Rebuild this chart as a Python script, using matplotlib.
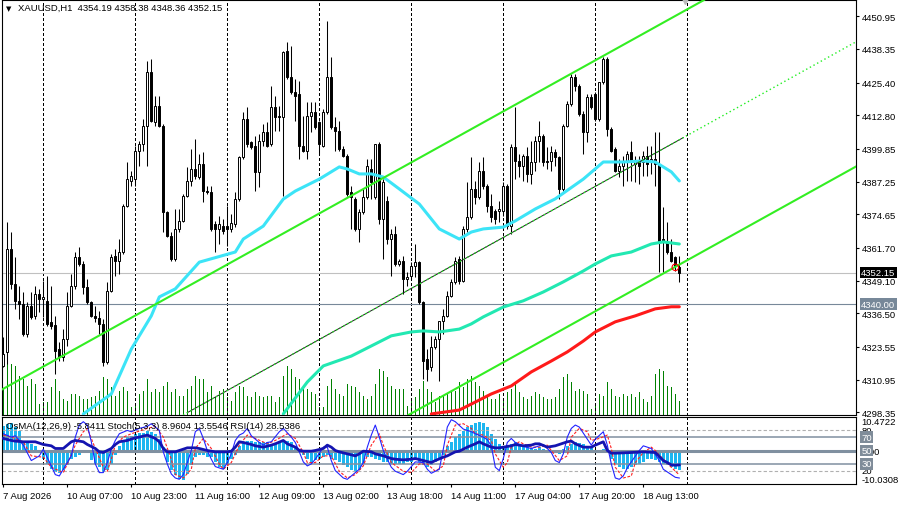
import matplotlib
matplotlib.use("Agg")
import matplotlib.pyplot as plt
from matplotlib.patches import Rectangle
from matplotlib.transforms import blended_transform_factory as btf
import numpy as np

plt.rcParams['font.family'] = ['Liberation Sans', 'DejaVu Sans']

# ---------------- data ----------------
symbol = "XAUUSD,H1"
header_ohlc = ["4354.19", "4358.38", "4348.36", "4352.15"]

opens = [4316.3, 4321.4, 4361.3, 4347.8, 4341.4, 4340.1, 4328.5, 4339.4, 4335.6, 4343.9,
         4342.0, 4341.4, 4333.0, 4331.9, 4322.7, 4319.5, 4326.6, 4339.4, 4347.1, 4358.1,
         4355.5, 4346.5, 4340.7, 4335.6, 4334.5, 4332.4, 4317.6, 4345.2, 4358.7, 4356.8,
         4360.0, 4378.0, 4387.6, 4388.2, 4399.2, 4401.7, 4408.8, 4429.4, 4410.1, 4416.5,
         4408.8, 4375.4, 4366.4, 4357.4, 4369.0, 4372.2, 4381.8, 4387.6, 4392.1, 4388.9,
         4394.0, 4383.7, 4383.1, 4370.9, 4369.0, 4370.3, 4370.3, 4369.0, 4370.9, 4380.5,
         4396.6, 4411.4, 4402.4, 4401.1, 4390.8, 4403.0, 4406.2, 4401.7, 4415.9, 4412.7,
         4412.0, 4437.7, 4427.4, 4421.6, 4421.0, 4401.1, 4399.2, 4412.7, 4413.9, 4410.1,
         4401.1, 4413.9, 4427.4, 4408.2, 4406.9, 4399.8, 4397.2, 4383.1, 4380.5, 4369.0,
         4375.4, 4381.2, 4392.1, 4381.2, 4401.7, 4372.8, 4379.9, 4365.1, 4367.1, 4355.5,
         4356.8, 4349.7, 4351.0, 4354.8, 4356.1, 4340.7, 4318.9, 4315.6, 4323.4, 4326.6,
         4333.6, 4335.6, 4343.3, 4348.4, 4357.4, 4349.1, 4369.0, 4373.5, 4384.4, 4381.2,
         4391.5, 4385.7, 4378.0, 4376.0, 4376.0, 4376.0, 4385.7, 4370.3, 4400.5, 4395.3,
         4393.4, 4397.2, 4390.2, 4394.7, 4403.0, 4405.0, 4395.3, 4395.3, 4398.5, 4396.6,
         4384.4, 4408.8, 4417.2, 4427.4, 4424.2, 4413.3, 4406.2, 4419.7, 4421.0, 4411.4,
         4425.5, 4434.5, 4407.5, 4399.8, 4391.5, 4393.4, 4394.7, 4398.5, 4394.0, 4394.7,
         4394.7, 4397.2, 4394.7, 4396.0, 4394.0, 4365.1, 4363.8, 4360.0, 4358.1, 4354.19]

highs = [4327.2, 4371.5, 4367.7, 4358.1, 4347.1, 4344.6, 4340.7, 4344.6, 4347.1, 4345.9,
         4349.1, 4351.0, 4347.1, 4335.6, 4325.3, 4330.4, 4344.6, 4351.6, 4360.0, 4361.9,
         4356.8, 4349.7, 4341.4, 4339.4, 4337.5, 4334.3, 4348.4, 4359.3, 4361.3, 4365.1,
         4378.6, 4394.7, 4391.5, 4401.1, 4403.0, 4411.4, 4433.9, 4434.5, 4420.4, 4420.4,
         4409.4, 4376.0, 4367.7, 4376.7, 4376.7, 4382.5, 4392.7, 4399.8, 4403.7, 4397.9,
         4398.5, 4385.7, 4385.7, 4372.2, 4374.1, 4372.8, 4378.0, 4374.8, 4383.1, 4397.2,
         4413.9, 4415.9, 4403.0, 4405.0, 4405.6, 4409.4, 4410.1, 4424.2, 4420.4, 4416.5,
         4437.7, 4440.9, 4439.6, 4426.8, 4426.1, 4412.7, 4417.8, 4417.8, 4417.8, 4410.7,
         4415.2, 4449.3, 4435.1, 4412.0, 4410.7, 4401.1, 4397.9, 4385.7, 4381.2, 4376.7,
         4384.4, 4396.0, 4396.0, 4401.7, 4402.4, 4388.2, 4381.8, 4369.0, 4370.3, 4357.4,
         4358.7, 4352.3, 4356.1, 4363.2, 4356.8, 4341.4, 4322.7, 4327.9, 4327.9, 4333.7,
         4338.1, 4345.2, 4349.7, 4358.1, 4358.7, 4370.3, 4387.0, 4396.6, 4387.6, 4394.7,
         4396.6, 4386.3, 4382.5, 4376.7, 4379.9, 4387.0, 4386.3, 4401.7, 4415.9, 4397.9,
         4397.9, 4400.5, 4403.0, 4405.0, 4410.7, 4405.6, 4400.5, 4401.1, 4399.8, 4397.2,
         4409.4, 4418.4, 4428.7, 4428.7, 4424.9, 4414.6, 4421.0, 4421.0, 4421.6, 4425.5,
         4435.1, 4435.1, 4408.2, 4400.5, 4396.0, 4397.2, 4399.2, 4403.0, 4397.2, 4397.2,
         4399.2, 4401.1, 4401.1, 4406.2, 4406.2, 4377.3, 4371.5, 4365.1, 4358.7, 4358.38]

lows = [4315.6, 4316.9, 4345.9, 4338.1, 4334.3, 4327.9, 4327.2, 4334.3, 4334.3, 4336.9,
        4334.9, 4331.7, 4330.4, 4313.1, 4318.2, 4318.2, 4324.0, 4338.8, 4345.9, 4354.8,
        4343.9, 4340.1, 4334.9, 4333.0, 4328.5, 4316.3, 4316.9, 4344.6, 4351.0, 4351.6,
        4359.3, 4377.3, 4385.7, 4385.7, 4393.4, 4399.2, 4393.4, 4410.1, 4408.8, 4408.2,
        4367.7, 4365.8, 4356.8, 4356.8, 4367.7, 4371.5, 4381.2, 4385.7, 4388.2, 4388.2,
        4379.3, 4382.5, 4368.3, 4360.0, 4363.2, 4367.1, 4362.6, 4367.7, 4369.6, 4379.9,
        4396.0, 4400.5, 4399.8, 4383.7, 4385.0, 4401.1, 4400.5, 4401.1, 4406.9, 4406.9,
        4381.8, 4426.8, 4421.0, 4410.7, 4396.0, 4398.5, 4396.0, 4406.2, 4407.5, 4397.9,
        4400.5, 4413.3, 4407.5, 4399.2, 4399.2, 4396.6, 4381.8, 4369.0, 4368.3, 4363.8,
        4374.8, 4380.5, 4380.5, 4380.5, 4370.9, 4357.4, 4363.2, 4351.0, 4354.8, 4354.8,
        4343.9, 4347.1, 4349.7, 4350.3, 4340.1, 4311.2, 4310.5, 4314.4, 4322.7, 4310.5,
        4328.5, 4334.9, 4342.6, 4347.8, 4347.8, 4348.4, 4367.7, 4372.8, 4378.6, 4380.5,
        4384.4, 4375.4, 4371.5, 4370.9, 4371.5, 4374.1, 4369.0, 4367.1, 4388.2, 4388.9,
        4387.6, 4387.0, 4386.3, 4391.5, 4394.7, 4393.4, 4392.1, 4391.5, 4393.4, 4380.5,
        4383.7, 4408.2, 4416.5, 4422.3, 4412.7, 4397.9, 4402.4, 4415.2, 4410.7, 4410.7,
        4424.9, 4405.0, 4398.5, 4390.8, 4388.9, 4385.7, 4387.6, 4387.6, 4387.0, 4386.3,
        4389.5, 4389.5, 4390.2, 4385.7, 4352.3, 4352.3, 4359.3, 4356.1, 4352.9, 4348.36]

closes = [4320.8, 4361.3, 4347.8, 4341.4, 4340.1, 4328.5, 4339.4, 4334.9, 4343.9, 4342.0,
          4342.6, 4332.4, 4331.7, 4322.1, 4319.5, 4326.6, 4339.4, 4347.1, 4358.1, 4355.5,
          4346.5, 4340.7, 4335.6, 4334.5, 4332.4, 4317.6, 4345.2, 4358.1, 4356.8, 4360.0,
          4378.0, 4388.2, 4389.5, 4399.2, 4401.7, 4408.8, 4429.4, 4410.7, 4416.5, 4408.8,
          4375.4, 4366.4, 4357.4, 4369.0, 4372.2, 4381.8, 4387.6, 4392.1, 4389.5, 4394.0,
          4383.7, 4383.1, 4369.0, 4369.0, 4370.9, 4368.3, 4369.0, 4371.3, 4380.5, 4396.6,
          4411.4, 4401.7, 4400.5, 4390.8, 4403.0, 4406.2, 4401.1, 4415.9, 4412.0, 4412.0,
          4437.1, 4427.4, 4421.6, 4420.4, 4401.1, 4399.2, 4412.7, 4413.9, 4408.2, 4401.7,
          4413.9, 4427.4, 4408.2, 4406.9, 4399.8, 4397.2, 4382.5, 4381.2, 4369.0, 4375.4,
          4381.2, 4393.4, 4387.0, 4401.7, 4372.8, 4387.0, 4365.1, 4367.1, 4355.5, 4356.8,
          4349.7, 4350.3, 4354.8, 4356.1, 4340.7, 4318.2, 4315.0, 4323.4, 4326.6, 4333.6,
          4335.6, 4343.3, 4348.4, 4356.8, 4349.1, 4369.0, 4373.5, 4384.4, 4381.2, 4391.5,
          4385.7, 4378.0, 4373.5, 4372.8, 4376.7, 4385.7, 4370.3, 4400.5, 4395.3, 4393.4,
          4397.2, 4390.2, 4394.7, 4403.0, 4405.0, 4394.7, 4394.7, 4398.5, 4396.6, 4384.4,
          4408.8, 4417.2, 4427.4, 4424.2, 4413.3, 4406.2, 4419.7, 4415.9, 4411.4, 4425.5,
          4434.5, 4407.5, 4399.2, 4391.5, 4393.4, 4394.7, 4397.9, 4394.7, 4395.3, 4393.4,
          4397.2, 4394.0, 4396.0, 4394.0, 4364.5, 4363.8, 4360.0, 4356.8, 4354.8, 4352.15]

tick_volume = [78, 153, 153, 148, 118, 108, 88, 108, 93, 33,
               38, 38, 83, 108, 73, 48, 43, 63, 63, 58,
               48, 48, 53, 58, 73, 113, 108, 83, 58, 73,
               83, 73, 23, 28, 63, 73, 108, 68, 78, 68,
               88, 98, 68, 78, 58, 58, 78, 88, 118, 108,
               108, 68, 88, 53, 73, 78, 53, 43, 68, 88,
               83, 58, 53, 68, 58, 53, 58, 58, 38, 53,
               118, 148, 138, 113, 108, 83, 78, 68, 63, 23,
               23, 88, 108, 78, 63, 58, 93, 88, 83, 68,
               58, 48, 58, 93, 138, 133, 113, 88, 78, 78,
               78, 28, 43, 53, 78, 103, 78, 68, 38, 58,
               58, 63, 73, 73, 98, 83, 108, 118, 98, 88,
               73, 53, 48, 48, 63, 43, 68, 78, 93, 68,
               53, 48, 58, 68, 63, 53, 48, 48, 53, 78,
               113, 123, 98, 73, 78, 73, 63, 18, 28, 63,
               58, 98, 78, 58, 53, 63, 58, 63, 53, 68,
               48, 38, 58, 123, 138, 133, 88, 83, 63, 43]
volume_scale_top = 1245

ma_fast_bars = [20, 27, 32, 37, 39, 43, 49, 58, 60, 65, 70, 73, 79, 84, 86, 89, 92, 95, 99, 104,
                109, 114, 117, 120, 125, 128, 133, 138, 145, 150, 155, 160, 163, 167, 169]
ma_fast = [4297.7, 4305.4, 4322.7, 4335.5, 4342.8, 4345.9, 4356.2, 4360.1, 4365.1, 4370.1,
           4380.5, 4383.6, 4388.2, 4392.9, 4392.1, 4390.2, 4390.2, 4389.0, 4384.4, 4378.6,
           4369.0, 4365.1, 4367.8, 4369.0, 4369.7, 4372.1, 4376.7, 4380.6, 4388.2, 4394.8,
           4394.8, 4395.2, 4394.8, 4391.0, 4387.5]
ma_mid_bars = [70, 76, 80, 87, 92, 97, 102, 105, 109, 114, 117, 120, 125, 130, 135, 140, 145,
               148, 152, 157, 162, 165, 169]
ma_mid = [4297.7, 4310.0, 4316.2, 4320.0, 4323.9, 4327.8, 4329.3, 4329.7, 4329.3, 4330.4,
          4332.4, 4335.1, 4338.9, 4341.3, 4344.7, 4348.6, 4352.8, 4355.5, 4358.6, 4360.1,
          4363.2, 4364.0, 4363.2]
ma_slow_bars = [107, 114, 117, 122, 127, 132, 137, 141, 145, 148, 153, 158, 163, 167, 169]
ma_slow = [4297.7, 4299.2, 4301.5, 4305.4, 4308.5, 4313.9, 4318.1, 4321.6, 4325.8, 4329.3,
           4333.2, 4335.5, 4338.2, 4339.0, 4339.0]

channel_upper = [(0, 4307.4), (170, 4452.8)]
channel_mid = [(46, 4298.2), (170, 4404.2)]
channel_lower = [(102, 4297.9), (170, 4356.1)]

bid_price = 4352.15
level_price = 4340.00
alert_bar, alert_price = 168, 4354.2

price_ticks = [4450.95, 4438.35, 4425.40, 4412.80, 4399.85, 4387.25, 4374.65,
               4361.70, 4349.10, 4336.50, 4323.55, 4310.95, 4298.35]
time_label_bars = [0, 16, 32, 48, 64, 80, 96, 112, 128, 144, 160]
time_labels = ["7 Aug 2026", "10 Aug 07:00", "10 Aug 23:00", "11 Aug 16:00", "12 Aug 09:00",
               "13 Aug 02:00", "13 Aug 18:00", "14 Aug 11:00", "17 Aug 04:00", "17 Aug 20:00",
               "18 Aug 13:00"]
grid_bars = [10, 33, 56, 79, 102, 125, 148, 171]

osma = [7.8, 8.3, 8.6, 7.3, 6.2, 3.2, 2.7, 2.2, 1.7, 0.2,
        -2.3, -3.8, -5.3, -6.4, -6.6, -5.8, -4.3, -2.3, -1.8, -1.3,
        0.2, -0.3, -2.8, -3.8, -4.8, -6.4, -5.8, -3.8, -1.3, 1.7,
        3.2, 4.2, 4.7, 5.2, 5.5, 5.7, 6.2, 5.9, 5.2, 3.7,
        1.2, -3.3, -5.8, -7.4, -8.4, -8.9, -6.9, -4.3, -1.8, -1.3,
        -1.3, -1.8, -1.8, -3.3, -4.8, -5.3, -3.8, -2.3, -1.3, 1.7,
        2.7, 3.2, 3.2, 2.9, 2.7, 2.7, 2.7, 2.2, 2.2, 2.7,
        3.2, 3.2, 2.7, 1.7, 0.7, -1.3, -2.3, -3.3, -2.8, -2.3,
        -1.8, -1.3, -2.3, -2.8, -3.3, -4.3, -4.8, -5.8, -6.4, -5.8,
        -3.8, -1.8, -1.8, -2.3, -2.8, -3.3, -3.3, -3.8, -3.8, -3.8,
        -3.8, -3.3, -3.3, -2.8, -3.3, -4.3, -4.8, -4.3, -3.3, -2.3,
        -1.3, 1.7, 2.7, 4.2, 5.2, 6.2, 7.3, 8.0, 8.6, 8.8,
        8.6, 7.3, 5.2, 3.7, 2.2, 1.5, 1.7, 2.2, 2.7, 2.2,
        1.7, 1.5, 0.9, 0.7, 1.2, 0.7, 0.5, -0.1, -0.3, -0.8,
        0.7, 1.7, 2.2, 2.7, 2.5, 2.2, 1.5, 0.9, -0.3, 0.5,
        0.7, 0.2, -2.3, -3.8, -4.8, -5.3, -5.3, -4.8, -4.3, -3.8,
        -3.3, -2.3, -2.5, -2.8, -3.3, -3.8, -4.3, -4.8, -5.3, -5.8411]
osma_min, osma_max = -10.0308, 10.4722

stoch_main_bars = [0, 2, 3, 5, 7, 9, 10, 12, 13, 14, 15, 17, 18, 19, 20, 21, 22, 23, 24, 25,
                   26, 27, 28, 29, 31, 32, 34, 36, 37, 39, 40, 41, 42, 43, 44, 45, 47, 48, 49, 50,
                   51, 52, 53, 55, 56, 57, 58, 59, 60, 61, 62, 64, 65, 66, 67, 69, 70, 72, 73, 74,
                   75, 76, 77, 78, 80, 81, 82, 83, 85, 86, 87, 89, 90, 91, 92, 93, 94, 95, 96, 97,
                   98, 100, 101, 103, 105, 106, 107, 109, 110, 111, 112, 113, 115, 117, 118, 120,
                   121, 122, 123, 124, 125, 126, 127, 128, 130, 132, 133, 135, 137, 138, 139, 140,
                   141, 142, 143, 144, 145, 147, 148, 150, 151, 152, 153, 154, 155, 156, 157, 159,
                   160, 161, 162, 164, 165, 166, 167, 168, 169]
stoch_main = [75, 70, 72, 58, 35, 42, 52, 27, 14, 12, 22, 42, 70, 88, 93, 88, 63, 30, 17, 17,
              32, 52, 65, 75, 80, 78, 83, 86, 90, 80, 48, 30, 15, 9, 7, 14, 50, 78, 83, 68,
              50, 37, 26, 22, 32, 45, 65, 73, 76, 83, 72, 62, 58, 62, 63, 78, 83, 70, 62, 48,
              33, 27, 30, 37, 55, 55, 35, 20, 9, 7, 12, 22, 32, 55, 73, 88, 70, 50, 37, 25,
              19, 14, 19, 33, 32, 22, 16, 22, 52, 85, 96, 93, 82, 78, 75, 70,
              66, 57, 25, 20, 38, 62, 68, 62, 56, 53, 55, 59, 47, 35, 32, 45,
              70, 83, 88, 85, 76, 58, 67, 78, 58, 30, 9, 7, 12, 24, 33, 50,
              57, 55, 53, 35, 22, 18, 14, 10, 8.9604]
stoch_sig_bars = [0, 2, 5, 7, 10, 12, 15, 16, 18, 20, 21, 23, 25, 26, 27, 28, 30, 32, 36, 38,
                  40, 42, 43, 45, 47, 48, 50, 52, 54, 55, 57, 59, 61, 63, 66, 68, 71, 73, 75, 76,
                  78, 80, 82, 84, 86, 88, 90, 92, 94, 95, 97, 100, 102, 104, 106, 108, 110, 111,
                  113, 115, 117, 118, 120, 122, 123, 125, 126, 127, 129, 130, 132, 134, 136, 137,
                  139, 141, 142, 144, 146, 147, 149, 151, 152, 153, 155, 157, 158, 160, 162, 163,
                  165, 167, 169]
stoch_sig = [73, 70, 63, 42, 40, 25, 17, 30, 58, 78, 83, 53, 25, 19, 37, 58, 70, 75, 83, 86,
             70, 37, 14, 9, 22, 53, 68, 53, 30, 22, 32, 58, 73, 68, 60, 65, 75, 68, 47, 32,
             32, 42, 42, 19, 9, 14, 27, 58, 75, 58, 32, 19, 17, 30, 30, 19, 27, 58,
             88, 90, 83, 75, 73, 65, 45, 25, 32, 55, 63, 60, 55, 55, 58, 50,
             35, 42, 70, 83, 78, 65, 68, 73, 53, 25, 9, 12, 32, 47, 55, 50,
             37, 25, 13.5546]
rsi_bars = [0, 2, 3, 5, 8, 10, 12, 13, 15, 16, 17, 18, 20, 21, 23, 24, 25, 27, 28, 29,
            31, 33, 34, 36, 38, 39, 40, 41, 43, 44, 46, 48, 49, 51, 53, 56, 57, 58, 59, 60,
            62, 63, 65, 67, 68, 70, 71, 73, 74, 75, 77, 78, 80, 81, 82, 83, 84, 86, 88, 89,
            90, 92, 93, 95, 97, 98, 100, 102, 103, 105, 107, 108, 110, 111, 113, 114, 116, 118,
            119, 120, 122, 123, 124, 125, 127, 128, 129, 130, 132, 133, 134, 136, 138, 139,
            141, 142, 143, 145, 147, 148, 150, 151, 152, 153, 157, 160, 163, 165, 166, 167,
            168, 169]
rsi = [68, 65, 64, 63, 63, 59, 57, 53, 53, 58, 63, 65, 63, 59, 53, 48, 47, 53, 59, 63,
       65, 69, 70, 73, 68, 63, 53, 48, 48, 50, 54, 54, 53, 50, 48, 48, 49, 55, 63, 62,
       59, 57, 55, 58, 60, 65, 60, 55, 50, 49, 49, 50, 53, 58, 55, 50, 48, 45, 42, 45,
       49, 48, 45, 42, 38, 37, 36, 37, 38, 35, 32, 35, 40, 42, 48, 49, 55, 60,
       63, 60, 55, 54, 54, 55, 57, 59, 58, 57, 58, 60, 60, 55, 57, 59,
       63, 64, 60, 55, 55, 58, 63, 50, 46, 46, 47, 48, 47, 35, 32, 28.5,
       28, 28.5386]
stoch_levels = [80, 20]
rsi_levels = [70, 30]
mid_level = 50
legend_text = "OsMA(12,26,9) -5.8411 Stoch(5,3,3) 8.9604 13.5546 RSI(14) 28.5386"

# ---------------- figure ----------------
W, H = 898, 506
fig = plt.figure(figsize=(W / 100, H / 100), dpi=100)
fig.patch.set_facecolor('white')


def box(x0, y0, x1, y1):
    return [x0 / W, 1 - y1 / H, (x1 - x0) / W, (y1 - y0) / H]


n = len(closes)
bars = np.arange(n)
XL = (-0.325, 213.175)
FS = 6.8

# volumes (bottom layer)
axv = fig.add_axes(box(2, 1, 856, 416))
axv.set_xlim(*XL)
axv.set_ylim(0, volume_scale_top)
axv.axis('off')
axv.vlines(bars, 0, tick_volume, color='#008000', lw=0.72, antialiased=False, snap=True)

# main price panel
ax = fig.add_axes(box(2, 1, 856, 416))
ax.set_facecolor('none')
ax.set_xlim(*XL)
ax.set_ylim(4297.29, 4457.23)
for s in ax.spines.values():
    s.set_color('black')
    s.set_linewidth(0.8)

for gb in grid_bars:
    ax.axvline(gb, color='black', lw=0.5, ls=(0, (4, 4)), zorder=0.5, antialiased=False)

ax.axhline(bid_price, color='#C0C0C0', lw=0.8, zorder=1)
ax.axhline(level_price, color='#778899', lw=0.8, zorder=1)

ax.vlines(bars, lows, highs, color='black', lw=0.75, zorder=3)
for i in range(n):
    o, c = opens[i], closes[i]
    lo = min(o, c)
    h = max(abs(c - o), 0.2)
    fc = 'white' if c >= o else 'black'
    ax.add_patch(Rectangle((i - 0.25, lo), 0.5, h, facecolor=fc, edgecolor='black',
                           lw=0.7, zorder=3.5))

ax.plot(ma_fast_bars, ma_fast, color='#3CE4F7', lw=2.2, zorder=4, solid_capstyle='round')
ax.plot(ma_mid_bars, ma_mid, color='#22E8B2', lw=2.2, zorder=4, solid_capstyle='round')
ax.plot(ma_slow_bars, ma_slow, color='#FF1A1A', lw=2.2, zorder=4, solid_capstyle='round')

ax.axline(channel_upper[0], channel_upper[1], color='#33EE22', lw=1.5, zorder=5)
ax.axline(channel_lower[0], channel_lower[1], color='#33EE22', lw=1.5, zorder=5)
ax.plot([p[0] for p in channel_mid], [p[1] for p in channel_mid], color='#202020', lw=0.7, zorder=5)
ax.axline(channel_mid[0], channel_mid[1], color='#22EE22', lw=1.0, ls=(0, (1, 2)), zorder=5.1)

ax.scatter([alert_bar], [alert_price], s=22, facecolors='none', edgecolors='red', lw=0.8, zorder=6)
ax.plot([170.5], [1.0], marker='v', ms=6, color='#BBBBBB',
        transform=btf(ax.transData, ax.transAxes), clip_on=False, zorder=6)

ax.set_xticks([])
ax.yaxis.tick_right()
ax.set_yticks(price_ticks)
ax.set_yticklabels([f"{v:.2f}" for v in price_ticks])
ax.tick_params(axis='y', direction='out', length=2.5, width=0.8, pad=1.5, labelsize=FS,
               colors='black')

trp = btf(ax.transAxes, ax.transData)
ax.text(1.0062, bid_price, f"{bid_price:.2f}", transform=trp, va='center', ha='left',
        fontsize=FS, color='white', zorder=10, clip_on=False,
        bbox=dict(boxstyle='square,pad=0.14', fc='black', ec='none'))
ax.text(1.0062, level_price, f"{level_price:.2f}", transform=trp, va='center', ha='left',
        fontsize=FS, color='white', zorder=10, clip_on=False,
        bbox=dict(boxstyle='square,pad=0.14', fc='#778899', ec='none'))

fig.text(5.5 / W, 1 - 9.5 / H, "\u25BC", fontsize=5, va='center', ha='left',
         family=['DejaVu Sans'])
fig.text(17.5 / W, 1 - 8.5 / H, f"{symbol}  " + " ".join(header_ohlc), fontsize=FS,
         va='center', ha='left')

# indicator panel
axo = fig.add_axes(box(2, 418, 856, 485))
axo.set_xlim(*XL)
axo.set_ylim(osma_min, osma_max)
axo.axis('off')
axo.bar(bars, osma, width=0.7, color='#1DB6F0', linewidth=0)

axi = fig.add_axes(box(2, 418, 856, 485))
axi.set_facecolor('none')
axi.set_xlim(*XL)
axi.set_ylim(0, 100)
for s in axi.spines.values():
    s.set_color('black')
    s.set_linewidth(0.8)
for gb in grid_bars:
    axi.axvline(gb, color='black', lw=0.5, ls=(0, (4, 4)), zorder=0.5, antialiased=False)
for lv in stoch_levels:
    axi.axhline(lv, color='#B0B0B0', lw=0.8, ls=(0, (3, 2)), zorder=1)
for lv in rsi_levels:
    axi.axhline(lv, color='#8090A0', lw=1.1, zorder=1)
axi.axhline(mid_level, color='#8090A0', lw=2.2, zorder=1)

axi.plot(stoch_sig_bars, stoch_sig, color='#FF2020', lw=0.8, ls=(0, (2.5, 1.5)), zorder=2)
axi.plot(stoch_main_bars, stoch_main, color='#2222FF', lw=0.8, zorder=2.2)
axi.plot(rsi_bars, rsi, color='#1414B0', lw=2.0, zorder=3)

axi.set_yticks([])
axi.set_xticks(time_label_bars)
axi.set_xticklabels(time_labels, ha='left')
axi.tick_params(axis='x', direction='out', length=2.5, width=0.8, pad=2.5, labelsize=FS,
                colors='black')

fig.text(6 / W, 1 - 427 / H, legend_text, fontsize=FS, va='center', ha='left')

tro = btf(axo.transAxes, axo.transData)
axo.text(1.0062, osma_max, "10.4722", transform=tro, va='top', ha='left', fontsize=FS,
         clip_on=False)
axo.text(1.0062, 0.0, "0.00", transform=tro, va='center', ha='left', fontsize=FS, clip_on=False)
axo.text(1.0062, osma_min, "-10.0308", transform=tro, va='bottom', ha='left', fontsize=FS,
         clip_on=False)

tri = btf(axi.transAxes, axi.transData)
for lv in stoch_levels:
    axi.text(1.0062, lv, str(lv), transform=tri, va='center', ha='left', fontsize=FS,
             clip_on=False, zorder=5)
for lv in rsi_levels + [mid_level]:
    axi.text(1.0062, lv, str(lv), transform=tri, va='center', ha='left', fontsize=FS,
             color='white', clip_on=False, zorder=6,
             bbox=dict(boxstyle='square,pad=0.12', fc='#7F8C99', ec='none'))

fig.savefig("out.png", dpi=100, facecolor='white')
